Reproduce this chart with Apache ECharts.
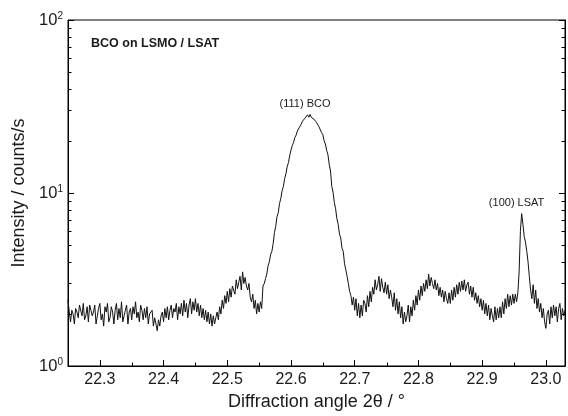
<!DOCTYPE html>
<html><head><meta charset="utf-8">
<script src="https://cdn.jsdelivr.net/npm/echarts@6/dist/echarts.min.js"></script>
<style>html,body{margin:0;padding:0;background:#fff}#c{width:568px;height:416px}</style>
</head><body><div id="c"></div>
<script>
// scan grid: 2theta from angleStart in steps of angleStep
const angleStart = 22.25;
const angleStep = 0.002;
// intensity (counts/s), one value per scan step
const intensity = [
  2.4, 2.05, 1.8, 2.1, 2.0, 1.75, 2.15, 2.05, 1.9, 2.25,
  2.2, 1.95, 2.3, 1.85, 1.95, 2.2, 1.8, 2.25, 2.1, 1.95,
  2.05, 2.25, 1.75, 1.95, 2.15, 2.3, 1.85, 2.0, 1.7, 2.2,
  2.05, 2.3, 1.8, 1.9, 2.2, 2.05, 1.75, 2.1, 2.3, 1.85,
  2.15, 1.9, 2.35, 1.8, 1.95, 2.1, 2.25, 1.75, 2.05, 2.15,
  1.85, 2.2, 2.0, 2.35, 1.9, 2.05, 1.8, 2.25, 2.1, 1.85,
  2.15, 1.9, 2.2, 1.75, 2.0, 1.95, 2.1, 1.7, 1.9, 1.75,
  1.6, 1.85, 1.7, 1.95, 2.05, 1.8, 2.15, 1.9, 2.2, 1.85,
  2.1, 2.25, 1.9, 2.15, 2.05, 2.3, 1.85, 2.2, 2.0, 2.3,
  1.95, 2.4, 2.05, 2.3, 1.9, 2.25, 2.45, 2.0, 2.35, 2.1,
  2.45, 2.05, 2.3, 1.95, 2.25, 1.9, 2.15, 1.85, 2.1, 1.8,
  2.05, 1.75, 2.0, 1.7, 1.95, 1.75, 1.9, 2.05, 1.85, 2.2,
  2.0, 2.4, 2.15, 2.55, 2.3, 2.7, 2.35, 2.8, 2.5, 2.9,
  2.95, 2.6, 3.15, 2.8, 3.05, 3.3, 2.75, 3.5, 3.0, 3.25,
  2.9, 2.75, 3.0, 2.5, 2.35, 2.6, 2.15, 2.4, 2.0, 2.3,
  2.05, 2.35, 2.15, 2.9, 3.0, 3.2, 3.4, 3.8, 4.0, 4.4,
  4.6, 5.1, 5.9, 6.4, 7.3, 7.7, 8.7, 9.3, 10.3, 10.9,
  12.1, 12.9, 14.2, 15.0, 16.5, 17.7, 18.8, 19.6, 20.9, 21.6,
  22.8, 23.3, 24.3, 25.0, 26.0, 26.3, 27.1, 27.0, 28.3, 27.4,
  28.5, 27.3, 28.0, 26.7, 26.9, 25.6, 25.2, 24.1, 23.6, 22.3,
  21.7, 20.0, 19.2, 17.6, 16.6, 14.6, 13.4, 10.9, 10.1, 8.8,
  8.1, 7.1, 6.6, 5.8, 5.5, 4.8, 4.6, 3.9, 3.6, 3.3,
  3.0, 2.7, 2.55, 2.25, 2.5, 2.1, 2.45, 1.95, 2.3, 1.9,
  2.25, 1.95, 2.4, 2.3, 2.05, 2.55, 2.2, 2.7, 2.35, 2.85,
  2.6, 3.15, 2.75, 2.95, 3.3, 2.7, 3.2, 2.85, 2.65, 3.05,
  2.6, 2.95, 2.45, 2.75, 2.5, 2.2, 2.65, 2.1, 2.45, 2.0,
  2.35, 1.9, 2.2, 1.75, 2.05, 1.8, 1.95, 2.25, 1.8, 2.2,
  1.95, 2.4, 2.1, 2.55, 2.25, 2.75, 2.4, 2.9, 2.55, 3.0,
  2.7, 3.15, 2.8, 3.4, 2.9, 3.25, 3.0, 2.8, 3.15, 2.75,
  3.0, 2.55, 2.85, 2.5, 2.75, 2.35, 2.7, 2.45, 2.3, 2.65,
  2.3, 2.75, 2.4, 2.85, 2.5, 2.95, 2.6, 3.05, 2.7, 3.1,
  2.75, 3.15, 2.7, 2.95, 3.05, 2.6, 2.9, 2.5, 2.85, 2.4,
  2.65, 2.3, 2.55, 2.2, 2.45, 2.1, 2.4, 2.0, 2.3, 1.95,
  2.25, 1.85, 2.15, 1.95, 1.8, 2.2, 1.85, 2.15, 1.9, 2.2,
  1.9, 2.35, 2.0, 2.45, 2.15, 2.6, 2.2, 2.55, 2.25, 2.6,
  2.3, 2.6, 2.35, 2.65, 3.5, 6.0, 7.6, 6.6, 5.6, 5.2,
  4.6, 4.0, 3.3, 2.75, 2.45, 2.95, 2.3, 2.75, 2.15, 2.45,
  2.05, 2.3, 1.9, 2.15, 1.8, 1.65, 2.0, 2.1, 1.75, 2.2,
  1.9, 2.25, 1.95, 2.2, 1.8, 2.15, 2.3, 1.85, 2.15, 1.95,
  2.1
];
const xRange = [22.25, 23.03];
const xMinorTicks = [22.35, 22.45, 22.55, 22.65, 22.75, 22.85, 22.95];
const yRange = [1, 100];
const yMinorTicks = [2, 3, 4, 5, 6, 7, 8, 9, 20, 30, 40, 50, 60, 70, 80, 90];
const peakLabels = ['(111) BCO', '(100) LSAT'];
const sampleTitle = 'BCO on LSMO / LSAT';

const FONT = '"Liberation Sans", Arial, sans-serif';
const TXT = '#1a1a1a';

const lineData = intensity.map((v, i) => [+(angleStart + i * angleStep).toFixed(3), v]);

const chart = echarts.init(document.getElementById('c'), null, {renderer: 'canvas'});
chart.setOption({
  animation: false,
  backgroundColor: '#fff',
  textStyle: {fontFamily: FONT},
  title: {
    text: sampleTitle, left: 91, top: 37, padding: 0,
    textStyle: {fontSize: 12.5, fontWeight: 'bold', color: TXT, fontFamily: FONT}
  },
  grid: {left: 68, right: 1, top: 20, bottom: 48, show: true, borderColor: '#000', borderWidth: 1, backgroundColor: 'transparent'},
  xAxis: {
    type: 'value', min: xRange[0], max: xRange[1], splitNumber: 8,
    name: 'Diffraction angle 2θ / °', nameLocation: 'middle', nameGap: 27,
    nameTextStyle: {fontSize: 18, color: TXT, fontFamily: FONT},
    axisLine: {show: true, lineStyle: {color: '#000', width: 1}},
    axisTick: {show: true, inside: true, length: 6, lineStyle: {color: '#000'}},
    axisLabel: {
      fontSize: 16, color: TXT, margin: 6, fontFamily: FONT,
      formatter: v => (Math.abs(v * 10 - Math.round(v * 10)) < 1e-6) ? v.toFixed(1) : ''
    },
    splitLine: {show: false}
  },
  yAxis: [{
    type: 'log', logBase: 10, min: yRange[0], max: yRange[1],
    name: 'Intensity / counts/s', nameLocation: 'middle', nameGap: 40, nameRotate: 90,
    nameTextStyle: {fontSize: 18, color: TXT, fontFamily: FONT},
    axisLine: {show: true, lineStyle: {color: '#000', width: 1}},
    axisTick: {show: true, inside: true, length: 6, lineStyle: {color: '#000'}},
    axisLabel: {
      margin: 5, color: TXT,
      formatter: v => '{b|10}{s|' + Math.round(Math.log10(v)) + '}',
      rich: {
        b: {fontSize: 16.5, color: TXT, fontFamily: FONT, lineHeight: 18},
        s: {fontSize: 10, color: TXT, fontFamily: FONT, verticalAlign: 'top', lineHeight: 10}
      }
    },
    splitLine: {show: false}
  }, {
    type: 'log', logBase: 10, min: yRange[0], max: yRange[1], position: 'right',
    axisLine: {show: true, lineStyle: {color: '#000', width: 1}},
    axisTick: {show: true, inside: true, length: 6, lineStyle: {color: '#000'}},
    axisLabel: {show: false}, splitLine: {show: false}
  }],
  series: [{
    type: 'line', data: lineData, xAxisIndex: 0, yAxisIndex: 0,
    showSymbol: false, symbol: 'none',
    lineStyle: {color: '#111', width: 1},
    markPoint: {
      symbol: 'circle', symbolSize: 0, silent: true,
      label: {show: true, position: 'inside', color: TXT, fontSize: 11, fontFamily: FONT},
      data: [
        {coord: [22.622, 32.5], value: peakLabels[0], label: {formatter: peakLabels[0]}},
        {coord: [22.954, 8.8], value: peakLabels[1], label: {formatter: peakLabels[1]}}
      ]
    }
  }, {
    type: 'custom', xAxisIndex: 0, yAxisIndex: 0, silent: true, clip: false,
    data: yMinorTicks.map(v => [xRange[0], v]),
    renderItem: (params, api) => {
      const p = api.coord([api.value(0), api.value(1)]);
      const cs = params.coordSys;
      const style = {stroke: '#000', lineWidth: 1};
      const y = Math.round(p[1]) + 0.5;
      return {type: 'group', children: [
        {type: 'line', shape: {x1: cs.x, y1: y, x2: cs.x + 3.5, y2: y}, style},
        {type: 'line', shape: {x1: cs.x + cs.width - 3.5, y1: y, x2: cs.x + cs.width, y2: y}, style}
      ]};
    }
  }, {
    type: 'custom', xAxisIndex: 0, yAxisIndex: 0, silent: true, clip: false,
    data: xMinorTicks.map(v => [v, yRange[0]]),
    renderItem: (params, api) => {
      const p = api.coord([api.value(0), api.value(1)]);
      const x = Math.round(p[0]) + 0.5;
      return {type: 'line', shape: {x1: x, y1: p[1], x2: x, y2: p[1] - 3.5}, style: {stroke: '#000', lineWidth: 1}};
    }
  }]
});
</script>
</body></html>
